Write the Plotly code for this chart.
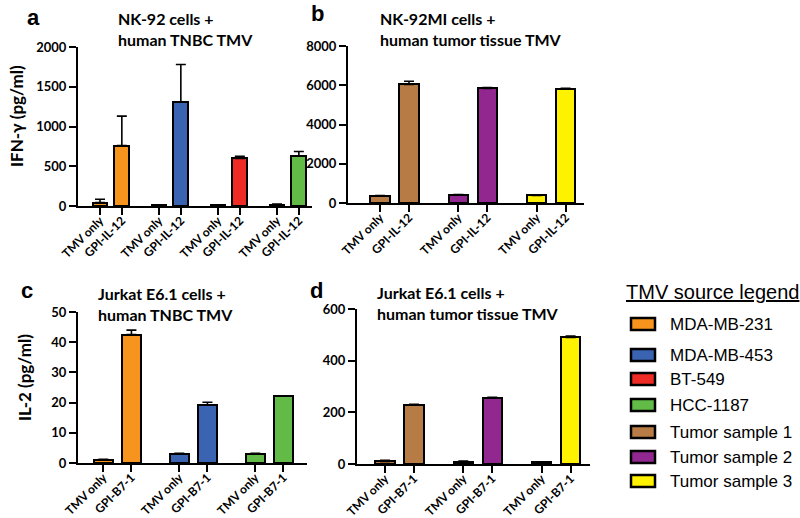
import plotly.graph_objects as go

# ---------------- data ----------------
treat_labels_a = ["TMV only", "GPI-IL-12"]
treat_labels_c = ["TMV only", "GPI-B7-1"]

a_sources = ["MDA-MB-231", "MDA-MB-453", "BT-549", "HCC-1187"]
b_sources = ["Tumor sample 1", "Tumor sample 2", "Tumor sample 3"]
c_sources = ["MDA-MB-231", "MDA-MB-453", "HCC-1187"]
d_sources = ["Tumor sample 1", "Tumor sample 2", "Tumor sample 3"]

a_tmv = [42, 10, 8, 18]
a_tmv_err = [42, 3, 3, 5]
a_gpi = [760, 1305, 598, 625]
a_gpi_err = [370, 475, 28, 60]

b_tmv = [370, 420, 390]
b_tmv_err = [10, 10, 10]
b_gpi = [6040, 5835, 5800]
b_gpi_err = [160, 50, 50]

c_tmv = [1.1, 3.1, 3.1]
c_tmv_err = [0.1, 0.1, 0.1]
c_gpi = [42.5, 19.2, 22.1]
c_gpi_err = [1.5, 0.9, 0.1]

d_tmv = [10, 9, 6]
d_tmv_err = [4, 2, 2]
d_gpi = [229, 257, 490]
d_gpi_err = [2, 1, 5]

legend_order = ["MDA-MB-231", "MDA-MB-453", "BT-549", "HCC-1187",
                "Tumor sample 1", "Tumor sample 2", "Tumor sample 3"]
legend_colors = ["#F7941E", "#3A63B1", "#EE2B24", "#62BB47",
                 "#B77B45", "#91278F", "#FFF200"]
source_colors = dict(zip(legend_order, legend_colors))

a_yticks = [0, 500, 1000, 1500, 2000]
b_yticks = [0, 2000, 4000, 6000, 8000]
c_yticks = [0, 10, 20, 30, 40, 50]
d_yticks = [0, 200, 400, 600]

# ---------------- layout helpers ----------------
W, H = 800, 518
OFFSET = 0.37
BARW = 0.25
TICKFONT = dict(family="Lato", size=13, color="black", weight="bold")
XTICKFONT = dict(family="Lato", size=12, color="black", weight="bold")
TITLEFONT = dict(family="Lato", size=16, color="black", weight="bold")


def px_x(p):
    return p / W


def px_y(p):
    return 1 - p / H


fig = go.Figure()

panels = [
    ("1", a_sources, a_tmv, a_tmv_err, a_gpi, a_gpi_err, treat_labels_a, a_yticks,
     (78, 312), (206, 47), (-0.373, 3.593)),
    ("2", b_sources, b_tmv, b_tmv_err, b_gpi, b_gpi_err, treat_labels_a, b_yticks,
     (348, 584), (203, 46), (-0.409, 2.605)),
    ("3", c_sources, c_tmv, c_tmv_err, c_gpi, c_gpi_err, treat_labels_c, c_yticks,
     (78, 307), (463, 312), (-0.333, 2.68)),
    ("4", d_sources, d_tmv, d_tmv_err, d_gpi, d_gpi_err, treat_labels_c, d_yticks,
     (357, 590), (464, 309), (-0.358, 2.618)),
]

for name, sources, tmv, tmv_err, gpi, gpi_err, labels, yticks, xd, yd, xr in panels:
    xs, ys, errs, cols, texts = [], [], [], [], []
    for i, s in enumerate(sources):
        xs += [i, i + OFFSET]
        ys += [tmv[i], gpi[i]]
        errs += [tmv_err[i], gpi_err[i]]
        cols += [source_colors[s], source_colors[s]]
        texts += labels
    xa = "x" if name == "1" else "x" + name
    ya = "y" if name == "1" else "y" + name
    fig.add_trace(go.Bar(
        x=xs, y=ys, width=BARW, xaxis=xa, yaxis=ya,
        marker=dict(color=cols, line=dict(color="black", width=2)),
        error_y=dict(type="data", array=errs, arrayminus=[0] * len(errs),
                     symmetric=False, color="black", thickness=1.6, width=5),
        showlegend=False,
    ))
    axkey = "xaxis" if name == "1" else "xaxis" + name
    aykey = "yaxis" if name == "1" else "yaxis" + name
    fig.update_layout(**{
        axkey: dict(domain=[px_x(xd[0]), px_x(xd[1])], range=list(xr),
                    anchor=ya, tickvals=xs, ticktext=texts, tickangle=-45,
                    showline=True, linecolor="black", linewidth=2,
                    ticks="outside", ticklen=7, tickwidth=2, tickcolor="black",
                    showgrid=False, zeroline=False, tickfont=XTICKFONT,
                    automargin=False, ticklabelstandoff=-6),
        aykey: dict(domain=[px_y(yd[0]), px_y(yd[1])], range=[0, yticks[-1]],
                    anchor=xa, tickvals=yticks,
                    showline=True, linecolor="black", linewidth=2,
                    ticks="outside", ticklen=7, tickwidth=2, tickcolor="black",
                    showgrid=False, zeroline=False, tickfont=TICKFONT,
                    automargin=False),
    })

annotations = []


def ann(text, x, y, font, xanchor="left", yanchor="middle", angle=0, align="left"):
    annotations.append(dict(text=text, x=px_x(x), y=px_y(y), xref="paper", yref="paper",
                            showarrow=False, font=font, xanchor=xanchor, yanchor=yanchor,
                            textangle=angle, align=align))


LETTER = dict(family="Liberation Sans", size=22, color="black", weight="bold")
ann("a", 33, 17, LETTER, xanchor="center")
ann("b", 317, 14, LETTER, xanchor="center")
ann("c", 27, 290, LETTER, xanchor="center")
ann("d", 316, 290, LETTER, xanchor="center")

ann("NK-92 cells +<br>human TNBC TMV", 116, 29, TITLEFONT)
ann("NK-92MI cells +<br>human tumor tissue TMV", 378, 29, TITLEFONT)
ann("Jurkat E6.1 cells +<br>human TNBC TMV", 96, 304, TITLEFONT)
ann("Jurkat E6.1 cells +<br>human tumor tissue TMV", 375, 303, TITLEFONT)

YTFONT = dict(family="Lato", size=17, color="black", weight="bold")
ann("IFN-γ (pg/ml)", 16, 116, YTFONT, xanchor="center", angle=-90)
ann("IL-2 (pg/ml)", 24, 378, YTFONT, xanchor="center", angle=-90)

# legend
LEGFONT = dict(family="Liberation Sans", size=17, color="black")
ann("<u>TMV source legend</u>", 712, 292, dict(family="Liberation Sans", size=20, color="black"),
    xanchor="center")
legend_rows = [324, 355, 379, 405, 432, 457, 481]
shapes = []
for s, c, ry in zip(legend_order, legend_colors, legend_rows):
    shapes.append(dict(type="rect", xref="paper", yref="paper",
                       x0=px_x(631), x1=px_x(655), y0=px_y(ry + 6), y1=px_y(ry - 6),
                       fillcolor=c, line=dict(color="black", width=2.5)))
    ann(s, 668, ry, LEGFONT)

fig.update_layout(
    width=W, height=H, margin=dict(l=0, r=0, t=0, b=0, pad=0, autoexpand=False),
    paper_bgcolor="white", plot_bgcolor="white",
    annotations=annotations, shapes=shapes, bargap=0,
)

fig.write_html("out.html", config={"displayModeBar": False},
               post_script="document.body.style.margin='0px';document.body.style.overflow='hidden';")
